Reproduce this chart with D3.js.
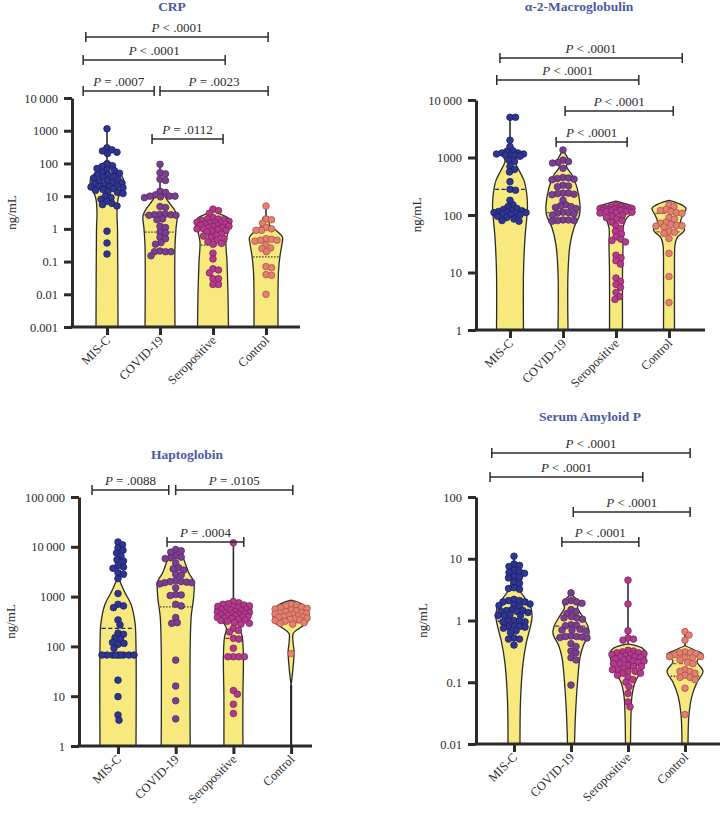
<!DOCTYPE html>
<html><head><meta charset="utf-8">
<script src="https://cdn.jsdelivr.net/npm/d3@7"></script>
<style>
body{margin:0;background:#fff;}
svg text{font-family:"Liberation Serif","Times New Roman",Times,serif;fill:#2b2b2b;}
</style></head><body>
<svg id="chart" width="724" height="815"></svg>
<script>
// ---------------- DATA ----------------
const categories = ["MIS-C","COVID-19","Seropositive","Control"];
const titles = ["CRP","α-2-Macroglobulin","Haptoglobin","Serum Amyloid P"];

const crpTicks = [0.001,0.01,0.1,1,10,100,1000,10000];
const crpTickLabels = ["0.001","0.01","0.1","1","10","100","1000","10\u2009000"];
const macroTicks = [1,10,100,1000,10000];
const macroTickLabels = ["1","10","100","1000","10\u2009000"];
const haptoTicks = [1,10,100,1000,10000,100000];
const haptoTickLabels = ["1","10","100","1000","10\u2009000","100\u2009000"];
const sapTicks = [0.01,0.1,1,10,100];
const sapTickLabels = ["0.01","0.1","1","10","100"];

// points (ng/mL)
const crpMISC = [1150,300,260,240,220,200,95,85,80,70,65,60,55,50,45,45,40,38,35,32,30,28,26,25,24,22,21,20,20,19,18,17,16,15,14,13,12,10,9,8,7,6,5.5,5,0.85,0.37,0.17];
const crpCOVID = [94,52,48,33,30,14,13,11,10,10,10,9.5,9,4.8,4.5,2.8,2.8,2.7,2.7,2.6,2.6,2.0,1.9,1.2,1.1,0.8,0.75,0.55,0.5,0.38,0.34,0.21,0.2,0.2,0.2,0.15];
const crpSero = [4.0,3.6,3.0,2.2,2.0,2.0,1.9,1.8,1.7,1.6,1.6,1.5,1.5,1.4,1.4,1.3,1.3,1.2,1.2,1.1,1.1,1.0,1.0,0.95,0.9,0.85,0.8,0.7,0.65,0.6,0.55,0.5,0.45,0.4,0.36,0.34,0.18,0.12,0.06,0.055,0.045,0.03,0.03,0.02,0.02];
const crpControl = [5.0,2.0,1.9,1.5,1.1,1.0,0.9,0.9,0.5,0.48,0.45,0.45,0.42,0.32,0.26,0.25,0.2,0.07,0.065,0.04,0.038,0.01];

const macroMISC = [5000,5000,2000,1550,1300,1250,1200,1200,1150,1150,1100,1100,1100,1050,900,850,700,620,560,380,280,270,180,150,140,130,125,120,118,115,112,110,110,108,105,102,100,95,90,85,80,78];
const macroCOVID = [1350,900,850,820,800,650,450,440,430,420,410,330,320,310,240,240,235,230,225,180,150,145,140,135,130,112,110,108,105,100,82,82,80,80,78];
const macroSero = [150,140,138,135,132,130,130,128,126,125,124,122,120,120,118,116,115,112,110,108,100,95,90,85,80,75,65,58,52,47,42,38,36,34,20,18,16,14,8,7,6.2,5.5,4.5,3.8,3.4];
const macroControl = [150,140,125,120,115,110,107,90,85,75,72,68,66,65,64,62,52,50,48,39,21.5,8.5,3.0];

const haptoMISC = [12500,11000,9500,8500,7500,6500,5500,5200,4200,3900,3700,3000,2800,2300,1150,700,650,600,340,270,185,175,150,140,120,115,110,92,67,67,67,67,67,67,67,67,67,21,9.8,4.2,3.3];
const haptoCOVID = [8800,8300,7800,6500,6200,6000,5800,4700,3800,3600,3400,2800,2700,2100,2000,2000,1950,1900,1900,1800,1500,1100,1080,1050,700,650,380,300,290,53,16,8.1,3.5];
const haptoSero = [12000,800,750,720,700,680,650,640,620,600,580,560,550,540,520,500,490,480,470,460,450,440,430,420,410,400,390,380,370,360,350,340,330,320,300,290,280,230,210,195,145,140,92,62,62,62,62,13,11,6.9,4.5];
const haptoControl = [700,680,650,620,600,580,560,540,520,500,480,470,460,450,440,420,410,400,390,380,370,360,350,340,330,320,300,290,280,72];

const sapMISC = [11,8.2,7.8,7.5,6.5,6.2,6.0,5.8,5.2,5.0,4.9,4.2,4.0,3.4,3.3,3.2,2.2,2.1,2.1,2.0,2.0,1.85,1.8,1.75,1.7,1.5,1.45,1.45,1.4,1.4,1.35,1.25,1.2,1.2,1.2,1.0,1.0,0.98,0.95,0.95,0.82,0.8,0.8,0.78,0.75,0.68,0.64,0.52,0.5,0.5,0.4];
const sapCOVID = [2.8,2.1,2.0,2.0,1.9,1.5,1.4,1.3,1.15,1.1,1.1,1.05,0.85,0.84,0.82,0.72,0.7,0.7,0.68,0.56,0.55,0.55,0.54,0.53,0.52,0.42,0.38,0.32,0.3,0.25,0.23,0.09];
const sapSero = [4.5,1.85,0.68,0.52,0.5,0.48,0.33,0.32,0.31,0.3,0.3,0.29,0.28,0.28,0.27,0.26,0.26,0.25,0.24,0.24,0.23,0.22,0.22,0.21,0.2,0.2,0.19,0.18,0.18,0.17,0.16,0.16,0.15,0.15,0.14,0.14,0.13,0.12,0.11,0.1,0.085,0.066,0.048,0.04];
const sapControl = [0.66,0.58,0.48,0.31,0.3,0.3,0.29,0.28,0.26,0.26,0.25,0.25,0.23,0.21,0.2,0.16,0.15,0.15,0.14,0.13,0.12,0.12,0.11,0.08,0.03];

// violin density profiles: [value, relative density], from top to bottom
const crpVioMISC = [[130,0],[100,4],[60,10],[35,16],[25,17],[15,14],[8,11],[3,10],[1,10.5],[0.001,11]];
const crpVioCOVID = [[15,0],[11,4],[7,8],[4,14],[2.5,17],[1,16],[0.3,15],[0.001,15]];
const crpVioSero = [[4.3,0],[3,6],[2,16],[1.3,17],[0.8,15],[0.4,13],[0.1,14],[0.01,15],[0.001,15.5]];
const crpVioControl = [[2.5,0],[2.2,3],[1.3,3.5],[0.9,10],[0.55,16.5],[0.35,16],[0.15,14],[0.05,12.5],[0.001,12]];

const macroVioMISC = [[1600,0],[1400,5],[1200,8],[1000,6],[850,5],[600,9],[400,14],[250,16.5],[150,17.5],[100,17],[40,15],[10,13.5],[1,13.5]];
const macroVioCOVID = [[1350,0],[1100,3],[900,5.5],[700,3.5],[500,9],[300,14],[150,17],[100,16.5],[60,11],[30,7],[10,5],[1,5]];
const macroVioSero = [[175,0],[160,8],[140,17],[110,16],[85,10],[60,7],[30,7],[10,6.5],[1,6.5]];
const macroVioControl = [[180,0],[160,9],[130,17],[100,14],[75,11.5],[55,15.5],[40,8],[30,6],[10,5.5],[1,5.5]];

const haptoVioMISC = [[2500,0],[1800,3],[1200,7],[700,13],[300,17],[100,18],[1,18]];
const haptoVioCOVID = [[10000,0],[8000,5],[5000,9],[3000,13],[2000,18],[1000,18],[400,15.5],[100,14.5],[1,14.5]];
const haptoVioSero = [[850,0],[750,8],[600,18],[450,17],[300,10],[230,7],[150,9],[60,10],[10,9.5],[1,9.5]];
const haptoVioControl = [[850,0],[780,6],[650,14],[450,18],[300,16],[230,8],[180,2],[120,2],[80,3],[50,2.5],[20,0.5],[17,0]];

const sapVioMISC = [[10,0],[7,2],[4,3],[3,6],[2.3,11],[1.6,17],[1.1,18],[0.75,16],[0.45,12.5],[0.2,9],[0.05,6.5],[0.01,6]];
const sapVioCOVID = [[3.1,0],[2.5,2],[2.0,8],[1.6,6.5],[1.2,11],[0.8,17],[0.6,18],[0.4,12.5],[0.25,9],[0.1,6.5],[0.03,4.5],[0.01,3.5]];
const sapVioSero = [[0.42,0],[0.36,14],[0.3,18],[0.2,16],[0.14,12],[0.1,7],[0.06,4],[0.03,3],[0.01,2.5]];
const sapVioControl = [[0.39,0],[0.33,10],[0.28,18],[0.22,12],[0.15,18],[0.1,12],[0.06,7],[0.03,4],[0.01,3]];

// [q1, median, q3] lines (null = not shown)
const crpQuart = [[null,21,null],[null,0.8,2.7],[null,0.32,null],[null,0.14,null]];
const macroQuart = [[null,118,280],[null,110,240],[37,115,null],[51,73,107]];
const haptoQuart = [[null,64,230],[null,620,null],[145,430,null],[300,370,470]];
const sapQuart = [[0.98,1.47,null],[null,0.52,0.81],[null,0.17,0.25],[null,0.125,0.2]];

// lower whisker end (only where violin stops above the axis)
const haptoLowWhisker = [null,null,null,1];

// comparisons: [group A, group B, operator, p]
const crpComparisons = [[0,3,"<",".0001"],[0,2,"<",".0001"],[0,1,"=",".0007"],[1,3,"=",".0023"],[1,2,"=",".0112"]];
const macroComparisons = [[0,3,"<",".0001"],[0,2,"<",".0001"],[1,3,"<",".0001"],[1,2,"<",".0001"]];
const haptoComparisons = [[0,1,"=",".0088"],[1,3,"=",".0105"],[1,2,"=",".0004"]];
const sapComparisons = [[0,3,"<",".0001"],[0,2,"<",".0001"],[1,3,"<",".0001"],[1,2,"<",".0001"]];

// ---------------- LAYOUT / STYLE ----------------
const groupFill = ["#2f3590","#7b3f91","#b43a8d","#e3806f"];
const groupStroke = ["#1c2063","#532a66","#7c2262","#a8554b"];
const violinFill = "#f7e97e";
const ink = "#2b2b2b";
const titleColor = "#4a5aa2";

const layout = [
 {x0:72, x1:300, yTop:98, yBot:327, first:107, step:53, titleX:172, titleY:11, ylabX:16,
  br:[[-0.40,3.04,37],[-0.45,2.23,60],[-0.45,0.89,91],[1.0,3.04,91],[0.85,2.19,139]]},
 {x0:476, x1:705, yTop:100, yBot:330, first:510, step:53, titleX:579, titleY:11, ylabX:421,
  br:[[-0.19,3.25,58],[-0.25,2.43,80],[1.04,3.08,111],[0.87,2.21,142]]},
 {x0:79, x1:312, yTop:497, yBot:746, first:118, step:57.7, titleX:187, titleY:459, ylabX:15,
  br:[[-0.45,0.88,490],[1.0,3.03,490],[0.85,2.18,542]]},
 {x0:476, x1:720, yTop:497, yBot:744, first:514, step:57, titleX:590, titleY:421, ylabX:427,
  br:[[-0.39,3.09,453],[-0.42,2.26,477],[1.04,3.09,512],[0.84,2.19,542]]}
];

const panels = [
 {ticks:crpTicks, labels:crpTickLabels, groups:[crpMISC,crpCOVID,crpSero,crpControl],
  vio:[crpVioMISC,crpVioCOVID,crpVioSero,crpVioControl], quart:crpQuart, comps:crpComparisons, low:[null,null,null,null]},
 {ticks:macroTicks, labels:macroTickLabels, groups:[macroMISC,macroCOVID,macroSero,macroControl],
  vio:[macroVioMISC,macroVioCOVID,macroVioSero,macroVioControl], quart:macroQuart, comps:macroComparisons, low:[null,null,null,null]},
 {ticks:haptoTicks, labels:haptoTickLabels, groups:[haptoMISC,haptoCOVID,haptoSero,haptoControl],
  vio:[haptoVioMISC,haptoVioCOVID,haptoVioSero,haptoVioControl], quart:haptoQuart, comps:haptoComparisons, low:haptoLowWhisker},
 {ticks:sapTicks, labels:sapTickLabels, groups:[sapMISC,sapCOVID,sapSero,sapControl],
  vio:[sapVioMISC,sapVioCOVID,sapVioSero,sapVioControl], quart:sapQuart, comps:sapComparisons, low:[null,null,null,null]}
];

const svg = d3.select("#chart");
const R = 3.3;

// compact swarm: allows partial overlap, capped spread
function swarm(vals, y, r, cap) {
  const pts = vals.map(v => ({v, y: y(v), x: 0})).sort((a,b)=>a.y-b.y);
  const placed = [];
  const d = 2*r*0.8;
  for (const p of pts) {
    let bestOff = 0, bestScore = -1, found = false;
    for (let k=0; k<400; k++) {
      const off = k===0 ? 0 : (k%2 ? 1 : -1)*Math.ceil(k/2)*0.5;
      if (Math.abs(off) > cap) break;
      let minD = Infinity;
      for (const q of placed) {
        const dy = q.y - p.y;
        if (Math.abs(dy) >= d) continue;
        const dx = q.x - off;
        minD = Math.min(minD, Math.sqrt(dx*dx + dy*dy));
      }
      if (minD >= d) { bestOff = off; found = true; break; }
      if (minD > bestScore) { bestScore = minD; bestOff = off; }
    }
    p.x = bestOff;
    placed.push(p);
  }
  return pts;
}

panels.forEach((P, pi) => {
  const L = layout[pi];
  const g = svg.append("g");
  const y = d3.scaleLog().domain([P.ticks[0], P.ticks[P.ticks.length-1]]).range([L.yBot, L.yTop]);
  const x = d3.scalePoint().domain(categories).range([L.first, L.first + 3*L.step]);
  const xi = d3.scaleLinear().domain([0,3]).range([L.first, L.first + 3*L.step]);
  const w = d3.scaleLinear().domain([0,20]).range([0,20]);

  categories.forEach((c, gi) => {
    const cx = x(c);
    const prof = P.vio[gi];
    const area = d3.area()
      .y(d => y(d[0]))
      .x0(d => cx - w(d[1]))
      .x1(d => cx + w(d[1]))
      .curve(d3.curveCatmullRom.alpha(0.5));
    const vmax = d3.max(P.groups[gi]);
    g.append("line").attr("x1",cx).attr("x2",cx)
      .attr("y1",y(vmax)).attr("y2",y(prof[0][0]))
      .attr("stroke",ink).attr("stroke-width",1.6);
    if (P.low[gi] != null) {
      g.append("line").attr("x1",cx).attr("x2",cx)
        .attr("y1",y(prof[prof.length-1][0])).attr("y2",y(P.low[gi]))
        .attr("stroke",ink).attr("stroke-width",2.2);
    }
    g.append("path").attr("d", area(prof))
      .attr("fill", violinFill).attr("stroke", ink).attr("stroke-width",1.3)
      .attr("stroke-linejoin","round");

    const logV = prof.map(d => Math.log10(d[0])).reverse();
    const dens = prof.map(d => d[1]).reverse();
    const hw = d3.scaleLinear().domain(logV).range(dens).clamp(true);
    P.quart[gi].forEach((q, qi) => {
      if (q == null) return;
      const half = w(hw(Math.log10(q)));
      g.append("line").attr("x1",cx-half+1).attr("x2",cx+half-1)
        .attr("y1",y(q)).attr("y2",y(q))
        .attr("stroke", qi===1 ? "#3a3a3a" : groupStroke[gi])
        .attr("stroke-width",1.3)
        .attr("stroke-dasharray", qi===1 ? "1.5,1.5" : "4,2.5");
    });

    const pts = swarm(P.groups[gi], y, R, 16);
    g.append("g").selectAll("circle").data(pts).join("circle")
      .attr("cx", d => cx + d.x).attr("cy", d => d.y).attr("r", R)
      .attr("fill", groupFill[gi]).attr("stroke", groupStroke[gi]).attr("stroke-width",0.8);
  });

  const ya = d3.axisLeft(y).tickValues(P.ticks).tickFormat((d,i)=>P.labels[i])
    .tickSize(8).tickSizeOuter(0).tickPadding(6);
  const yg = g.append("g").attr("transform",`translate(${L.x0},0)`).call(ya);
  yg.attr("font-family",null);
  yg.select(".domain").attr("stroke",ink).attr("stroke-width",3);
  yg.selectAll(".tick line").attr("stroke",ink).attr("stroke-width",3);
  yg.selectAll(".tick text").attr("font-size",12.5).attr("fill",ink);

  const xa = d3.axisBottom(x).tickSize(8).tickSizeOuter(0).tickFormat("");
  const xg = g.append("g").attr("transform",`translate(0,${L.yBot})`).call(xa);
  xg.select(".domain").remove();
  xg.selectAll(".tick line").attr("stroke",ink).attr("stroke-width",3);
  g.append("line").attr("x1",L.x0-1.5).attr("x2",L.x1).attr("y1",L.yBot).attr("y2",L.yBot)
    .attr("stroke",ink).attr("stroke-width",3);
  categories.forEach(c => {
    g.append("text").text(c)
      .attr("transform",`translate(${x(c)+4},${L.yBot+14}) rotate(-45)`)
      .attr("text-anchor","end").attr("font-size",12.5);
  });

  g.append("text").text("ng/mL")
    .attr("transform",`translate(${L.ylabX},${(L.yTop+L.yBot)/2}) rotate(-90)`)
    .attr("text-anchor","middle").attr("font-size",13);

  g.append("text").text(titles[pi]).attr("x",L.titleX).attr("y",L.titleY)
    .attr("text-anchor","middle").attr("font-size",13.5).attr("font-weight","bold")
    .style("fill",titleColor);

  P.comps.forEach((cmp, ci) => {
    const [a, b, op, p] = cmp;
    const [fa, fb, by] = L.br[ci];
    const xa0 = xi(fa), xb0 = xi(fb);
    const bg = g.append("g").attr("stroke",ink).attr("stroke-width",1.5);
    bg.append("line").attr("x1",xa0).attr("x2",xb0).attr("y1",by).attr("y2",by);
    bg.append("line").attr("x1",xa0).attr("x2",xa0).attr("y1",by-5).attr("y2",by+5);
    bg.append("line").attr("x1",xb0).attr("x2",xb0).attr("y1",by-5).attr("y2",by+5);
    const t = g.append("text").attr("x",(xa0+xb0)/2).attr("y",by-5)
      .attr("text-anchor","middle").attr("font-size",13);
    t.append("tspan").text("P").attr("font-style","italic");
    t.append("tspan").text(` ${op} ${p}`);
  });
});
</script>
</body></html>
